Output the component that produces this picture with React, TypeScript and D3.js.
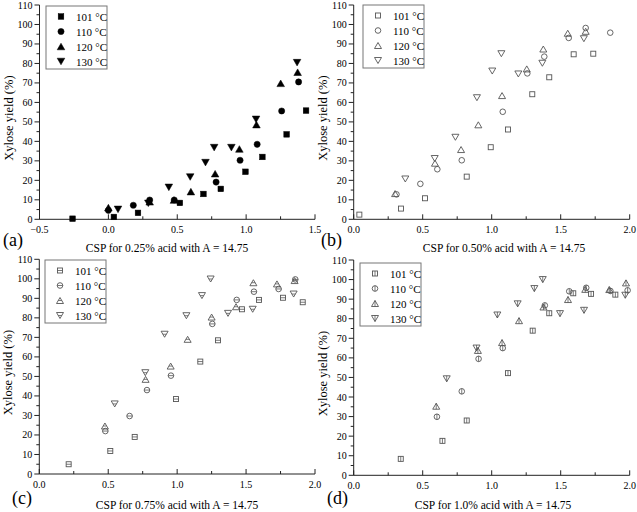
import React from 'react';
import * as d3 from 'd3';

const legendLabels = ['101 °C', '110 °C', '120 °C', '130 °C'];
const yTickValues = [0, 10, 20, 30, 40, 50, 60, 70, 80, 90, 100, 110];
const yMinorValues = [5, 15, 25, 35, 45, 55, 65, 75, 85, 95, 105];
const xTicksA = [-0.5, 0.0, 0.5, 1.0, 1.5];
const xMinorA = [-0.25, 0.25, 0.75, 1.25];
const xTicksB = [0.0, 0.5, 1.0, 1.5, 2.0];
const xMinorB = [0.25, 0.75, 1.25, 1.75];

// Panel (a): 0.25% acid
const a101 = [[-0.26, 0.3], [0.04, 1.2], [0.215, 3.3], [0.519, 8.4], [0.69, 13.0], [0.816, 15.6], [0.995, 24.4], [1.118, 32.0], [1.294, 43.6], [1.435, 55.8]];
const a110 = [[0.0, 4.6], [0.181, 7.2], [0.30, 9.9], [0.478, 9.9], [0.782, 19.1], [0.956, 30.3], [1.08, 38.5], [1.258, 55.6], [1.381, 70.5]];
const a120 = [[0.0, 6.0], [0.30, 9.0], [0.476, 9.9], [0.599, 14.2], [0.775, 23.4], [0.951, 36.1], [1.075, 48.6], [1.251, 69.8], [1.374, 75.5]];
const a130 = [[0.07, 5.1], [0.29, 8.2], [0.439, 16.4], [0.594, 21.7], [0.705, 29.1], [0.768, 36.8], [0.893, 36.8], [1.072, 51.3], [1.37, 80.4]];

// Panel (b): 0.50% acid
const b101 = [[0.041, 2.4], [0.343, 5.5], [0.517, 10.8], [0.819, 21.9], [0.993, 37.0], [1.118, 46.1], [1.294, 64.2], [1.417, 72.9], [1.594, 84.7], [1.736, 85.0]];
const b110 = [[0.31, 12.8], [0.483, 18.2], [0.606, 25.7], [0.783, 30.3], [1.08, 55.2], [1.258, 74.9], [1.381, 83.5], [1.558, 93.1], [1.681, 98.2], [1.859, 95.8]];
const b120 = [[0.30, 13.2], [0.589, 28.8], [0.778, 35.8], [0.903, 48.5], [1.075, 63.5], [1.254, 77.2], [1.374, 87.4], [1.551, 95.5], [1.681, 96.5]];
const b130 = [[0.374, 20.7], [0.587, 31.2], [0.737, 42.1], [0.893, 62.4], [1.004, 76.1], [1.07, 85.0], [1.193, 74.6], [1.367, 80.1], [1.668, 92.7]];

// Panel (c): 0.75% acid
const c101 = [[0.213, 5.0], [0.515, 11.8], [0.692, 19.0], [0.992, 38.4], [1.168, 57.6], [1.296, 68.5], [1.47, 84.4], [1.594, 89.2], [1.768, 90.3], [1.911, 88.0]];
const c110 = [[0.479, 22.0], [0.655, 29.7], [0.781, 43.0], [0.955, 50.4], [1.255, 76.9], [1.432, 89.2], [1.557, 93.4], [1.736, 94.8], [1.857, 99.7]];
const c120 = [[0.476, 24.6], [0.771, 48.5], [0.953, 55.3], [1.076, 69.0], [1.25, 80.4], [1.427, 85.7], [1.553, 98.0], [1.724, 97.4], [1.852, 99.1]];
const c130 = [[0.547, 35.9], [0.769, 51.9], [0.909, 71.6], [1.067, 81.1], [1.18, 91.4], [1.243, 99.9], [1.369, 82.3], [1.548, 84.4], [1.845, 92.2]];

// Panel (d): 1.0% acid
const d101 = [[0.341, 8.4], [0.643, 17.6], [0.819, 28.0], [1.118, 52.2], [1.297, 73.9], [1.417, 82.8], [1.591, 93.0], [1.72, 92.7], [1.896, 92.3]];
const d110 = [[0.603, 29.9], [0.783, 42.9], [0.905, 59.5], [1.08, 65.0], [1.385, 86.8], [1.562, 94.0], [1.685, 95.8], [1.86, 94.2], [1.985, 94.5]];
const d120 = [[0.598, 35.3], [0.90, 63.8], [1.075, 67.8], [1.198, 79.0], [1.375, 86.0], [1.553, 89.8], [1.678, 95.0], [1.852, 94.9], [1.973, 98.3]];
const d130 = [[0.674, 49.3], [0.89, 65.0], [1.041, 81.9], [1.188, 87.6], [1.309, 95.4], [1.37, 100.0], [1.495, 82.6], [1.669, 84.3], [1.968, 92.0]];

type Style = 'filled' | 'open' | 'h' | 'v';

const panels = [
  { label: '(a)', title: 'CSP for 0.25% acid with A = 14.75', series: [a101, a110, a120, a130], style: 'filled' as Style,
    xDomain: [-0.5, 1.5], xTicks: xTicksA, xMinor: xMinorA,
    x0: 39.5, x1: 315, y0: 219.3, y1: 5, labelX: 3, labelY: 246, titleX: 167, titleY: 252, legX: 46, legY: 6 },
  { label: '(b)', title: 'CSP for 0.50% acid with A = 14.75', series: [b101, b110, b120, b130], style: 'open' as Style,
    xDomain: [0, 2], xTicks: xTicksB, xMinor: xMinorB,
    x0: 353.7, x1: 629.7, y0: 219.3, y1: 5, labelX: 321, labelY: 246, titleX: 504, titleY: 252, legX: 363, legY: 5 },
  { label: '(c)', title: 'CSP for 0.75% acid with A = 14.75', series: [c101, c110, c120, c130], style: 'h' as Style,
    xDomain: [0, 2], xTicks: xTicksB, xMinor: xMinorB,
    x0: 39.3, x1: 315, y0: 474, y1: 259.3, labelX: 12, labelY: 504, titleX: 177, titleY: 509, legX: 45, legY: 260 },
  { label: '(d)', title: 'CSP for 1.0% acid with A = 14.75', series: [d101, d110, d120, d130], style: 'v' as Style,
    xDomain: [0, 2], xTicks: xTicksB, xMinor: xMinorB,
    x0: 353.7, x1: 629.7, y0: 475.3, y1: 260, labelX: 327, labelY: 504, titleX: 493, titleY: 509, legX: 360, legY: 263 },
];

const FONT = '"Liberation Serif", "Times New Roman", serif';
const GRAY = '#555';

function Marker({ kind, style, x, y }: { kind: number; style: Style; x: number; y: number }) {
  const filled = style === 'filled';
  const fill = filled ? '#000' : 'none';
  const stroke = filled ? '#000' : GRAY;
  const sw = filled ? 0.5 : 0.9;
  let shape: React.ReactNode = null;
  let hw = 2.7, hh = 2.7;
  if (kind === 0) {
    const s = filled ? 5.6 : 5;
    hw = hh = s / 2;
    shape = <rect x={-s / 2} y={-s / 2} width={s} height={s} fill={fill} stroke={stroke} strokeWidth={sw} />;
  } else if (kind === 1) {
    const r = filled ? 3.1 : 2.8;
    hw = hh = r;
    shape = <circle r={r} fill={fill} stroke={stroke} strokeWidth={sw} />;
  } else {
    const w = filled ? 3.8 : 3.5;
    const h = filled ? 3.3 : 3.0;
    hw = w; hh = h;
    const pts = kind === 2 ? `0,${-h} ${w},${h} ${-w},${h}` : `0,${h} ${w},${-h} ${-w},${-h}`;
    shape = <polygon points={pts} fill={fill} stroke={stroke} strokeWidth={sw} strokeLinejoin="miter" />;
  }
  let extra: React.ReactNode = null;
  if (style === 'h') {
    const lw = kind >= 2 ? hw / 2 : hw;
    extra = <line x1={-lw} x2={lw} y1={0} y2={0} stroke={stroke} strokeWidth={0.8} />;
  } else if (style === 'v') {
    extra = <line x1={0} x2={0} y1={-hh} y2={hh} stroke={stroke} strokeWidth={0.8} />;
  }
  return (
    <g transform={`translate(${x},${y})`}>
      {shape}
      {extra}
    </g>
  );
}

function Panel({ p }: { p: typeof panels[number] }) {
  const xs = d3.scaleLinear().domain(p.xDomain).range([p.x0, p.x1]);
  const ys = d3.scaleLinear().domain([0, 110]).range([p.y0, p.y1]);
  const fmt = d3.format('.1f');
  const axisColor = '#222';
  return (
    <g>
      <line x1={p.x0} x2={p.x0} y1={p.y0} y2={p.y1} stroke={axisColor} strokeWidth={1} />
      <line x1={p.x0} x2={p.x1} y1={p.y0} y2={p.y0} stroke={axisColor} strokeWidth={1} />
      {yTickValues.map((v) => (
        <g key={'yt' + v}>
          <line x1={p.x0 - 5} x2={p.x0} y1={ys(v)} y2={ys(v)} stroke={axisColor} strokeWidth={1} />
          <text x={p.x0 - 7} y={ys(v) + 3.5} textAnchor="end" fontSize={10} fontFamily={FONT} fill="#000">{v}</text>
        </g>
      ))}
      {yMinorValues.map((v) => (
        <line key={'ym' + v} x1={p.x0 - 3} x2={p.x0} y1={ys(v)} y2={ys(v)} stroke={axisColor} strokeWidth={1} />
      ))}
      {p.xTicks.map((v) => (
        <g key={'xt' + v}>
          <line x1={xs(v)} x2={xs(v)} y1={p.y0} y2={p.y0 - 5} stroke={axisColor} strokeWidth={1} />
          <text x={xs(v)} y={p.y0 + 14} textAnchor="middle" fontSize={10} fontFamily={FONT} fill="#000">{fmt(v)}</text>
        </g>
      ))}
      {p.xMinor.map((v) => (
        <line key={'xm' + v} x1={xs(v)} x2={xs(v)} y1={p.y0} y2={p.y0 - 3} stroke={axisColor} strokeWidth={1} />
      ))}
      <text x={p.titleX} y={p.titleY} textAnchor="middle" fontSize={11.5} fontFamily={FONT} fill="#000">{p.title}</text>
      <text transform={`translate(${p.x0 - 27},${(p.y0 + p.y1) / 2 + 6}) rotate(-90)`} textAnchor="middle" fontSize={12.5} fontFamily={FONT} fill="#000">Xylose yield (%)</text>
      <text x={p.labelX} y={p.labelY} fontSize={18} fontFamily={FONT} fill="#000">{p.label}</text>
      {p.series.map((s, si) => (
        <g key={'s' + si}>
          {s.map((d, i) => (
            <Marker key={i} kind={si} style={p.style} x={xs(d[0])} y={ys(d[1])} />
          ))}
        </g>
      ))}
      <g transform={`translate(${p.legX},${p.legY})`}>
        <rect x={0} y={0} width={61} height={63} fill="#fff" stroke="#777" strokeWidth={1} />
        {legendLabels.map((t, i) => (
          <g key={t}>
            <Marker kind={i} style={p.style} x={15} y={10.5 + i * 15} />
            <text x={30} y={14.5 + i * 15} fontSize={11} fontFamily={FONT} fill="#000">{t}</text>
          </g>
        ))}
      </g>
    </g>
  );
}

export default function App() {
  return (
    <svg width={637} height={512} style={{ position: 'absolute', left: 0, top: 0, background: '#fff' }}>
      <rect width={637} height={512} fill="#fff" />
      {panels.map((p) => (
        <Panel key={p.label} p={p} />
      ))}
    </svg>
  );
}
